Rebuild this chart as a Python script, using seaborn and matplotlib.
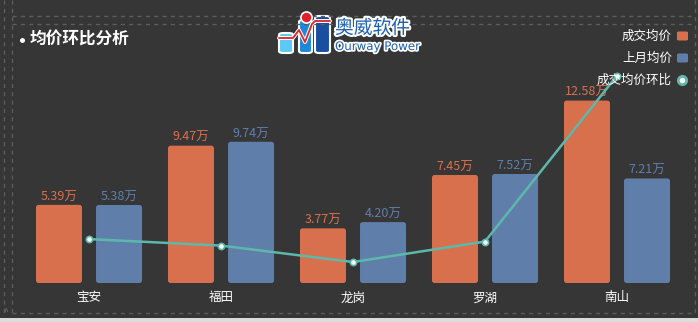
import matplotlib
matplotlib.use("Agg")
import matplotlib.pyplot as plt
import seaborn as sns
import pandas as pd
import numpy as np
from matplotlib.patches import FancyBboxPatch, Rectangle
from matplotlib.lines import Line2D
import matplotlib.patheffects as pe

# ---- data ----
districts = ["宝安", "福田", "龙岗", "罗湖", "南山"]
deal_avg = [5.39, 9.47, 3.77, 7.45, 12.58]      # 成交均价 (万)
last_month = [5.38, 9.74, 4.20, 7.52, 7.21]     # 上月均价 (万)
ratio_pct = [0.19, -2.77, -10.24, -0.93, 74.48] # 成交均价环比 (%)
series_names = ["成交均价", "上月均价", "成交均价环比"]
title = "均价环比分析"

BG = "#363636"
ORANGE = "#D8704E"
BLUE = "#607EAA"
TEAL = "#5DB8AC"
DASH = "#5c5c5c"

sns.set_theme(style="dark")
plt.rcParams["font.family"] = ["Noto Sans CJK SC", "DejaVu Sans"]

W, H = 698, 322
fig = plt.figure(figsize=(W / 100, H / 100), dpi=100)
fig.patch.set_facecolor(BG)

def fx(x):
    return x / W

def fy(y):
    return 1 - y / H

# main axes: x centers at 89..617, bar bottom at y=283
ax_l, ax_r, ax_b, ax_t = 23, 683, 283, 40
ax = fig.add_axes([fx(ax_l), fy(ax_b), (ax_r - ax_l) / W, (ax_b - ax_t) / H])
ax.set_facecolor("none")

df = pd.DataFrame({
    "区域": districts * 2,
    "均价": deal_avg + last_month,
    "类型": [series_names[0]] * 5 + [series_names[1]] * 5,
})
sns.barplot(data=df, x="区域", y="均价", hue="类型", palette=[ORANGE, BLUE],
            width=0.91, gap=0.234, saturation=1, ax=ax, legend=False)

px_per_unit = 14.5
ax.set_ylim(0, (ax_b - ax_t) / px_per_unit)
ax.set_xlim(-0.5, len(districts) - 0.5)

# rounded corners on bars
aspect = (1 / px_per_unit) / ((len(districts)) / (ax_r - ax_l))
for cont, col in zip(ax.containers, [ORANGE, BLUE]):
    for p in cont.patches:
        p.set_visible(False)
        fb = FancyBboxPatch((p.get_x(), p.get_y()), p.get_width(), p.get_height(),
                            boxstyle="round,pad=0,rounding_size=0.02",
                            mutation_aspect=aspect, facecolor=col, edgecolor="none")
        ax.add_patch(fb)

for cont, col in zip(ax.containers, [ORANGE, BLUE]):
    vals = [p.get_height() for p in cont.patches]
    ax.bar_label(cont, labels=[f"{v:.2f}万" for v in vals], padding=1,
                 color=col, fontsize=9)

ax.set_xlabel("")
ax.set_ylabel("")
ax.set_yticks([])
ax.tick_params(axis="x", colors="white", labelsize=9, length=0, pad=6)
for s in ax.spines.values():
    s.set_visible(False)
ax.grid(False)

# secondary axis for ratio line
ax2 = ax.twinx()
zero_px = 239.5
pct_px = 2.2
lo = -(ax_b - zero_px) / pct_px
hi = (zero_px - ax_t) / pct_px
sns.lineplot(x=list(range(len(districts))), y=ratio_pct, ax=ax2, color=TEAL,
             linewidth=1.8, marker="o", markersize=4.5, markerfacecolor="white",
             markeredgecolor=TEAL, markeredgewidth=1.2)
ax2.set_ylim(lo, hi)
ax2.set_yticks([])
ax2.set_ylabel("")
ax2.grid(False)
for s in ax2.spines.values():
    s.set_visible(False)

def dot(x, y, size, face, edge="none", ew=0):
    fig.add_artist(Line2D([fx(x)], [fy(y)], marker="o", markersize=size,
                          markerfacecolor=face, markeredgecolor=edge,
                          markeredgewidth=ew, linestyle="none",
                          transform=fig.transFigure))

# title
dot(21.5, 39.5, 3.6, "white")
fig.text(fx(30), fy(40), title, color="white", fontsize=12, fontweight="bold",
         va="center", ha="left")

# legend (manual)
leg_y = [36, 58, 80]
for i, (name, y) in enumerate(zip(series_names, leg_y)):
    fig.text(fx(672), fy(y), name, color="white", fontsize=9, ha="right", va="center")
    if i < 2:
        fig.add_artist(FancyBboxPatch((fx(677), fy(y + 4.5)), fx(11), 9 / H,
                                      boxstyle="round,pad=0,rounding_size=0.003",
                                      facecolor=[ORANGE, BLUE][i], edgecolor="none",
                                      transform=fig.transFigure))
    else:
        dot(682, y, 6, "white", TEAL, 2)

# dashed frames
def dline(x0, y0, x1, y1):
    fig.add_artist(Line2D([fx(x0), fx(x1)], [fy(y0), fy(y1)], color=DASH,
                          linewidth=1, linestyle=(0, (3, 3)), transform=fig.transFigure))

dline(12, 16, 695, 16)
dline(12, 24, 695, 24)
dline(4, 0, 4, 313)
dline(12, 0, 12, 313)
dline(695, 0, 695, 313)
dline(12, 313, 695, 313)
fig.text(fx(6), fy(312), "^", color="#777777", fontsize=6, ha="center", va="center")
fig.add_artist(Rectangle((0, 0), 1, 4 / H, facecolor="#dcdcdc", edgecolor="none",
                         transform=fig.transFigure))

# logo approximation
for (x0, y0, x1, col) in [(279, 33, 293, "#5bc8f5"), (299, 20, 312, "#1e88d8"),
                          (315, 16, 330, "#1a4fa0")]:
    fig.add_artist(FancyBboxPatch((fx(x0), fy(53)), fx(x1 - x0), (53 - y0) / H,
                                  boxstyle="round,pad=0,rounding_size=0.006",
                                  facecolor=col, edgecolor="white", linewidth=1.5,
                                  transform=fig.transFigure))
dot(305.5, 17, 8, "#e0202a", "white", 1.2)
fig.add_artist(Line2D([fx(279), fx(293), fx(299), fx(305), fx(312), fx(315), fx(330)],
                      [fy(38), fy(38), fy(30), fy(42), fy(24), fy(21), fy(21)],
                      color="#e0202a", linewidth=1.3, transform=fig.transFigure,
                      path_effects=[pe.withStroke(linewidth=2.8, foreground="white")]))
fig.text(fx(335), fy(28), "奥威软件", color="#1e5fb0", fontsize=13.5, ha="left",
         va="center", path_effects=[pe.withStroke(linewidth=3, foreground="white")])
fig.text(fx(335), fy(46.5), "Ourway Power", color="#1e5fb0", fontsize=8.5, ha="left",
         va="center", family=["DejaVu Sans"],
         path_effects=[pe.withStroke(linewidth=2.5, foreground="white")])

fig.savefig("out.png", dpi=100, facecolor=BG)
